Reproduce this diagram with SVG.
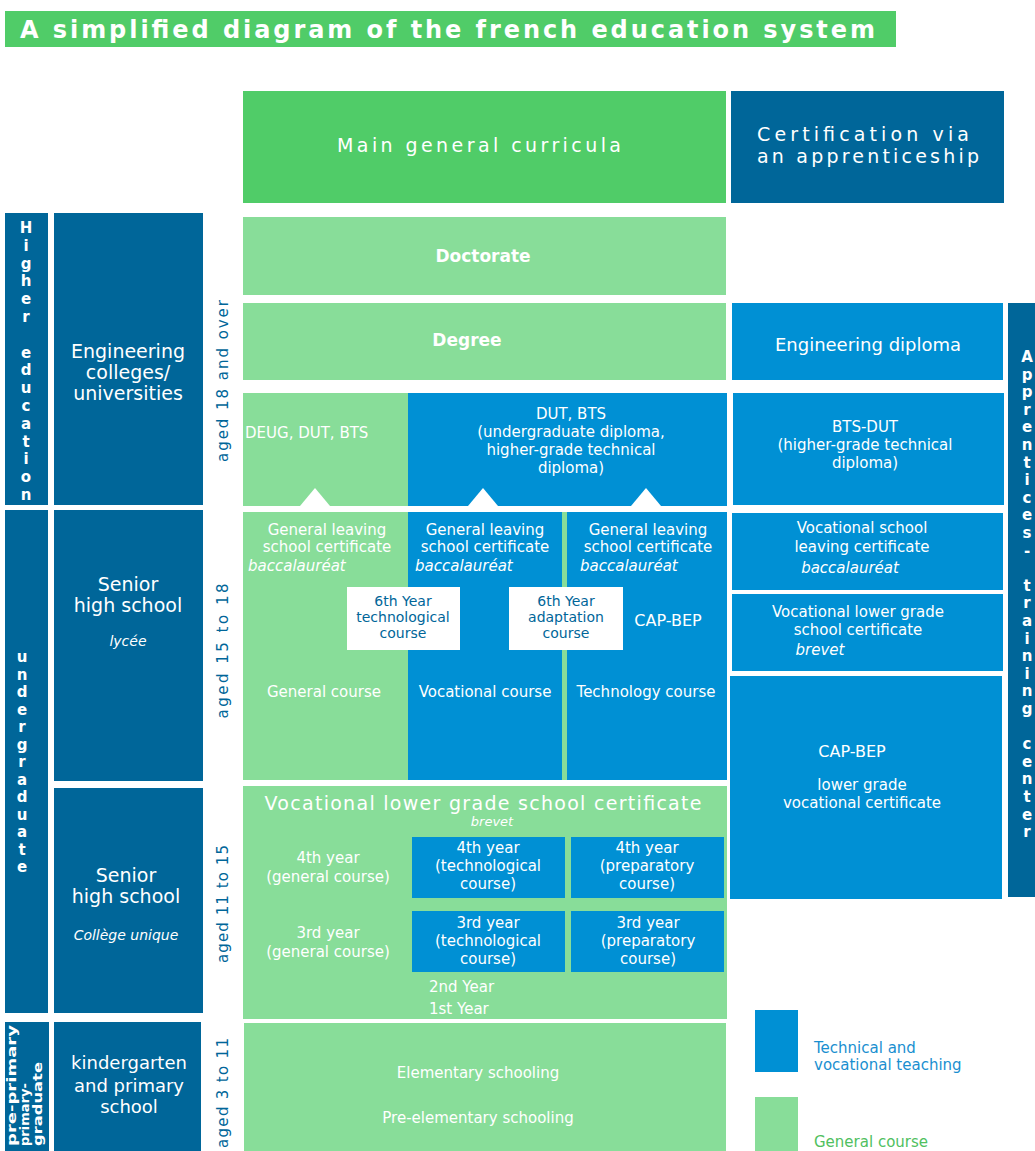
<svg xmlns="http://www.w3.org/2000/svg" width="1035" height="1151" viewBox="0 0 1035 1151">
<style>
.dk{fill:#006699}
.bl{fill:#0090d4}
.lg{fill:#88dd99}
.mg{fill:#50cc68}
.wh{fill:#ffffff}
text{font-family:"DejaVu Sans","Liberation Sans",sans-serif;}
.t{fill:#ffffff;font-size:15px;text-anchor:middle}
.tl{fill:#ffffff;font-size:15px}
.it{font-style:italic}
.b{font-weight:bold}
.v{fill:#ffffff;font-size:15px;font-weight:bold;text-anchor:middle}
.age{fill:#006699;font-size:15px;text-anchor:middle}
.wb{fill:#006699;font-size:14px;text-anchor:middle}
</style>
<rect width="1035" height="1151" fill="#ffffff"/>

<g id="title">
<rect class="mg" x="5" y="11" width="891" height="36"/>
<text x="20" y="38" fill="#ffffff" font-size="24" font-weight="bold" textLength="855" lengthAdjust="spacing">A simplified diagram of the french education system</text>
</g>

<g id="main-general-curricula">
<rect class="mg" x="243" y="91" width="483" height="112"/>
<text class="t" x="479" y="152" textLength="284" lengthAdjust="spacing" style="font-size:19px">Main general curricula</text>
</g>

<g id="certification-apprenticeship">
<rect class="dk" x="731" y="91" width="273" height="112"/>
<text class="tl" x="757" y="141" textLength="212" lengthAdjust="spacing" style="font-size:19px">Certification via</text>
<text class="tl" x="757" y="163" textLength="222" lengthAdjust="spacing" style="font-size:19px">an apprenticeship</text>
</g>

<g id="higher-education">
<rect class="dk" x="5" y="213" width="43" height="292"/>
<text class="v" x="26 26 26 26 26 26 26 26 26 26 26 26 26 26 26 26" y="233 250.8 268.6 286.4 304.2 322 339.8 357.6 375.4 393.2 411 428.8 446.6 464.4 482.2 500">Higher education</text>
</g>

<g id="engineering-colleges">
<rect class="dk" x="54" y="213" width="149" height="292"/>
<text class="t" x="128" y="358" style="font-size:19px">Engineering</text>
<text class="t" x="128" y="379" style="font-size:19px">colleges/</text>
<text class="t" x="128" y="400" style="font-size:19px">universities</text>
</g>

<g id="age-18-over">
<text class="age" transform="translate(228,381) rotate(-90)" textLength="162" lengthAdjust="spacing">aged 18 and over</text>
</g>

<g id="doctorate">
<rect class="lg" x="243" y="217" width="483" height="78"/>
<text class="t b" x="483" y="262" style="font-size:17px">Doctorate</text>
</g>

<g id="degree">
<rect class="lg" x="243" y="303" width="483" height="77"/>
<text class="t b" x="467" y="346" style="font-size:17px">Degree</text>
</g>

<g id="engineering-diploma">
<rect class="bl" x="732" y="303" width="271" height="77"/>
<text class="t" x="868" y="351" style="font-size:18px">Engineering diploma</text>
</g>

<g id="apprentices-training-center">
<rect class="dk" x="1008" y="303" width="30" height="594"/>
<text class="v" x="1027 1027 1027 1027 1027 1027 1027 1027 1027 1027 1027 1027 1027 1027 1027 1027 1027 1027 1027 1027 1027 1027 1027 1027 1027 1027 1027 1027" y="362 379.6 397.2 414.8 432.4 450 467.6 485.2 502.8 520.4 538 555.6 573.2 590.8 608.4 626 643.6 661.2 678.8 696.4 714 731.6 749.2 766.8 784.4 802 819.6 837.2">Apprentices- training center</text>
</g>

<g id="deug-dut-bts">
<rect class="lg" x="243" y="393" width="165" height="113"/>
<text class="tl" x="245" y="438">DEUG, DUT, BTS</text>
</g>

<g id="dut-bts">
<rect class="bl" x="408" y="393" width="319" height="113"/>
<text class="t" x="571" y="419">DUT, BTS</text>
<text class="t" x="571" y="437">(undergraduate diploma,</text>
<text class="t" x="571" y="455">higher-grade technical</text>
<text class="t" x="571" y="473">diploma)</text>
</g>

<g id="bts-dut-apprentice">
<rect class="bl" x="733" y="393" width="271" height="112"/>
<text class="t" x="865" y="432">BTS-DUT</text>
<text class="t" x="865" y="450">(higher-grade technical</text>
<text class="t" x="865" y="468">diploma)</text>
</g>

<g id="undergraduate">
<rect class="dk" x="5" y="510" width="43" height="503"/>
<text class="v" x="22 22 22 22 22 22 22 22 22 22 22 22 22" y="662 679.5 697 714.5 732 749.5 767 784.5 802 819.5 837 854.5 872">undergraduate</text>
</g>

<g id="senior-high-lycee">
<rect class="dk" x="54" y="510" width="149" height="271"/>
<text class="t" x="128" y="591" style="font-size:19px">Senior</text>
<text class="t" x="128" y="612" style="font-size:19px">high school</text>
<text class="t it" x="128" y="646" style="font-size:14px">lycée</text>
</g>

<g id="age-15-18">
<text class="age" transform="translate(228,651) rotate(-90)" textLength="135" lengthAdjust="spacing">aged 15 to 18</text>
</g>

<g id="general-course-lycee">
<rect class="lg" x="243" y="512" width="484" height="268"/>
<text class="t" x="327" y="535">General leaving</text>
<text class="t" x="327" y="552">school certificate</text>
<text class="tl it" x="248" y="571">baccalauréat</text>
<text class="t" x="324" y="697">General course</text>
</g>

<g id="vocational-course-lycee">
<rect class="bl" x="408" y="512" width="154" height="268"/>
<text class="t" x="485" y="535">General leaving</text>
<text class="t" x="485" y="552">school certificate</text>
<text class="tl it" x="415" y="571">baccalauréat</text>
<text class="t" x="485" y="697">Vocational course</text>
</g>

<g id="technology-course-lycee">
<rect class="bl" x="567" y="512" width="160" height="268"/>
<text class="t" x="648" y="535">General leaving</text>
<text class="t" x="648" y="552">school certificate</text>
<text class="tl it" x="580" y="571">baccalauréat</text>
<text class="t" x="668" y="626" style="font-size:16px">CAP-BEP</text>
<text class="t" x="646" y="697">Technology course</text>
</g>

<g id="sixth-year-technological">
<rect class="wh" x="347" y="587" width="113" height="63"/>
<text class="wb" x="403" y="606">6th Year</text>
<text class="wb" x="403" y="622">technological</text>
<text class="wb" x="403" y="638">course</text>
</g>

<g id="sixth-year-adaptation">
<rect class="wh" x="509" y="587" width="114" height="63"/>
<text class="wb" x="566" y="606">6th Year</text>
<text class="wb" x="566" y="622">adaptation</text>
<text class="wb" x="566" y="638">course</text>
</g>

<g id="vocational-school-leaving">
<rect class="bl" x="732" y="513" width="271" height="77"/>
<text class="t" x="862" y="533">Vocational school</text>
<text class="t" x="862" y="552">leaving certificate</text>
<text class="t it" x="850" y="573">baccalauréat</text>
</g>

<g id="vocational-lower-grade-apprentice">
<rect class="bl" x="732" y="594" width="271" height="77"/>
<text class="t" x="858" y="617">Vocational lower grade</text>
<text class="t" x="858" y="635">school certificate</text>
<text class="t it" x="820" y="655">brevet</text>
</g>

<g id="cap-bep-apprentice">
<rect class="bl" x="730" y="676" width="272" height="223"/>
<text class="t" x="852" y="757" style="font-size:16px">CAP-BEP</text>
<text class="t" x="862" y="790">lower grade</text>
<text class="t" x="862" y="808">vocational certificate</text>
</g>

<g id="senior-high-college">
<rect class="dk" x="54" y="788" width="149" height="225"/>
<text class="t" x="126" y="882" style="font-size:19px">Senior</text>
<text class="t" x="126" y="903" style="font-size:19px">high school</text>
<text class="t it" x="126" y="940" style="font-size:14px">Collège unique</text>
</g>

<g id="age-11-15">
<text class="age" transform="translate(228,904) rotate(-90)" textLength="118" lengthAdjust="spacing">aged 11 to 15</text>
</g>

<g id="college-general">
<rect class="lg" x="243" y="786" width="484" height="233"/>
<text class="t" x="483" y="810" textLength="437" lengthAdjust="spacing" style="font-size:19px">Vocational lower grade school certificate</text>
<text class="t it" x="492" y="826" style="font-size:13px">brevet</text>
<text class="t" x="328" y="863">4th year</text>
<text class="t" x="328" y="882">(general course)</text>
<text class="t" x="328" y="938">3rd year</text>
<text class="t" x="328" y="957">(general course)</text>
<text class="tl" x="429" y="992">2nd Year</text>
<text class="tl" x="429" y="1014">1st Year</text>
</g>

<g id="fourth-year-technological">
<rect class="bl" x="412" y="837" width="153" height="61"/>
<text class="t" x="488" y="853">4th year</text>
<text class="t" x="488" y="871">(technological</text>
<text class="t" x="488" y="889">course)</text>
</g>

<g id="fourth-year-preparatory">
<rect class="bl" x="571" y="837" width="153" height="61"/>
<text class="t" x="647" y="853">4th year</text>
<text class="t" x="647" y="871">(preparatory</text>
<text class="t" x="647" y="889">course)</text>
</g>

<g id="third-year-technological">
<rect class="bl" x="412" y="911" width="153" height="61"/>
<text class="t" x="488" y="928">3rd year</text>
<text class="t" x="488" y="946">(technological</text>
<text class="t" x="488" y="964">course)</text>
</g>

<g id="third-year-preparatory">
<rect class="bl" x="571" y="911" width="153" height="61"/>
<text class="t" x="648" y="928">3rd year</text>
<text class="t" x="648" y="946">(preparatory</text>
<text class="t" x="648" y="964">course)</text>
</g>

<g id="pre-primary">
<rect class="dk" x="5" y="1022" width="44" height="129"/>
<text fill="#ffffff" font-size="13" font-weight="bold" transform="translate(16,1146) rotate(-90)" textLength="121" lengthAdjust="spacingAndGlyphs">pre-primary</text>
<text fill="#ffffff" font-size="13" font-weight="bold" transform="translate(29,1146) rotate(-90)" textLength="63" lengthAdjust="spacingAndGlyphs">primary-</text>
<text fill="#ffffff" font-size="13" font-weight="bold" transform="translate(42,1146) rotate(-90)" textLength="84" lengthAdjust="spacingAndGlyphs">graduate</text>
</g>

<g id="kindergarten-primary">
<rect class="dk" x="54" y="1022" width="147" height="129"/>
<text class="t" x="129" y="1069" style="font-size:18px">kindergarten</text>
<text class="t" x="129" y="1092" style="font-size:18px">and primary</text>
<text class="t" x="129" y="1113" style="font-size:18px">school</text>
</g>

<g id="age-3-11">
<text class="age" transform="translate(228,1093) rotate(-90)" textLength="110" lengthAdjust="spacing">aged 3 to 11</text>
</g>

<g id="elementary">
<rect class="lg" x="244" y="1023" width="482" height="128"/>
<text class="t" x="478" y="1078">Elementary schooling</text>
<text class="t" x="478" y="1123">Pre-elementary schooling</text>
</g>

<g id="legend-technical">
<rect class="bl" x="755" y="1010" width="43" height="62"/>
<text x="814" y="1053" fill="#1a8fd0" font-size="15">Technical and</text>
<text x="814" y="1070" fill="#1a8fd0" font-size="15">vocational teaching</text>
</g>

<g id="legend-general">
<rect class="lg" x="755" y="1097" width="43" height="54"/>
<text x="814" y="1147" fill="#50c060" font-size="15">General course</text>
</g>

<g id="connectors">
<polygon class="wh" points="300,506 315,488 330,506"/>
<polygon class="wh" points="468,506 483,488 498,506"/>
<polygon class="wh" points="631,506 646,488 661,506"/>
</g>
</svg>
